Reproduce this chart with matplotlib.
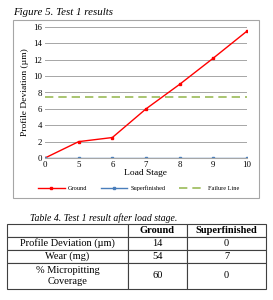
import matplotlib
matplotlib.use("Agg")
import matplotlib.pyplot as plt
from matplotlib.patches import Rectangle

plt.rcParams['font.family'] = ['Liberation Serif', 'DejaVu Serif']

# Data
load_stages = ["0", "5", "6", "7", "8", "9", "10"]
ground = [0, 2, 2.5, 6, 9, 12.2, 15.5]
superfinished = [0, 0, 0, 0, 0, 0, 0]
failure_line = [7.5, 7.5, 7.5, 7.5, 7.5, 7.5, 7.5]
y_ticks = [0, 2, 4, 6, 8, 10, 12, 14, 16]

table_cols = ["", "Ground", "Superfinished"]
table_rows = ["Profile Deviation (\u00b5m)", "Wear (mg)", "% Micropitting\nCoverage"]
ground_vals = ["14", "54", "60"]
superfinished_vals = ["0", "7", "0"]

W, H = 273, 300
fig = plt.figure(figsize=(W / 100, H / 100), dpi=100)

def fx(px):
    return px / W

def fy(py):
    return 1 - py / H

# Figure caption
fig.text(fx(13), fy(15), "Figure 5. Test 1 results", fontsize=7.8, style='italic',
         ha='left', va='baseline')

# Chart border
fig.patches.append(Rectangle((fx(13), fy(198)), fx(259) - fx(13), fy(20) - fy(198),
                             transform=fig.transFigure, fill=False,
                             edgecolor='#a6a6a6', linewidth=0.8))

ax = fig.add_axes([fx(45), fy(158), fx(247) - fx(45), fy(27) - fy(158)])
x = list(range(len(load_stages)))
ax.plot(x, ground, color='#ff0000', marker='s', markersize=2, linewidth=1.0, label='Ground')
ax.plot(x, superfinished, color='#4a7ebb', marker='s', markersize=1.5, linewidth=1.0,
        label='Superfinished')
ax.plot(x, failure_line, color='#9bbb59', linestyle=(0, (5, 3)), linewidth=1.2,
        label='Failure Line')
ax.set_xlim(0, len(load_stages) - 1)
ax.set_ylim(0, 16)
ax.set_yticks(y_ticks)
ax.set_xticks(x)
ax.set_xticklabels(load_stages)
ax.tick_params(axis='both', labelsize=6.3, length=0, pad=2)
ax.grid(axis='y', color='#a6a6a6', linewidth=0.7)
ax.set_axisbelow(True)
for s in ['top', 'right', 'left']:
    ax.spines[s].set_visible(False)
ax.spines['bottom'].set_color('#a6a6a6')
ax.set_xlabel("Load Stage", fontsize=6.8, labelpad=0)
ax.set_ylabel("Profile Deviation (\u00b5m)", fontsize=6.8, labelpad=3)
ax.legend(loc='center', bbox_to_anchor=(0.465, (fy(188) - fy(158)) / (fy(27) - fy(158))),
          ncol=3, frameon=False, fontsize=4.5, handlelength=4.2, columnspacing=2.2,
          handletextpad=0.5)

# Table caption
fig.text(fx(30), fy(221), "Table 4. Test 1 result after load stage.", fontsize=7,
         style='italic', ha='left', va='baseline')

tax = fig.add_axes([fx(7), fy(289), fx(266) - fx(7), fy(224) - fy(289)])
tax.axis('off')
cell_text = [table_cols] + [[r, g, s] for r, g, s in zip(table_rows, ground_vals, superfinished_vals)]
tbl = tax.table(cellText=cell_text, cellLoc='center', bbox=[0, 0, 1, 1])
tbl.auto_set_font_size(False)
col_w = [121, 59, 79]
row_h = [13, 13, 13, 26]
for (r, c), cell in tbl.get_celld().items():
    cell.set_width(col_w[c])
    cell.set_height(row_h[r])
    cell.set_linewidth(0.8)
    cell.set_edgecolor('#404040')
    cell.get_text().set_fontsize(7.5)
    cell.PAD = 0.02
    if r == 0:
        cell.get_text().set_fontweight('bold')

fig.savefig("out.png", dpi=100)
